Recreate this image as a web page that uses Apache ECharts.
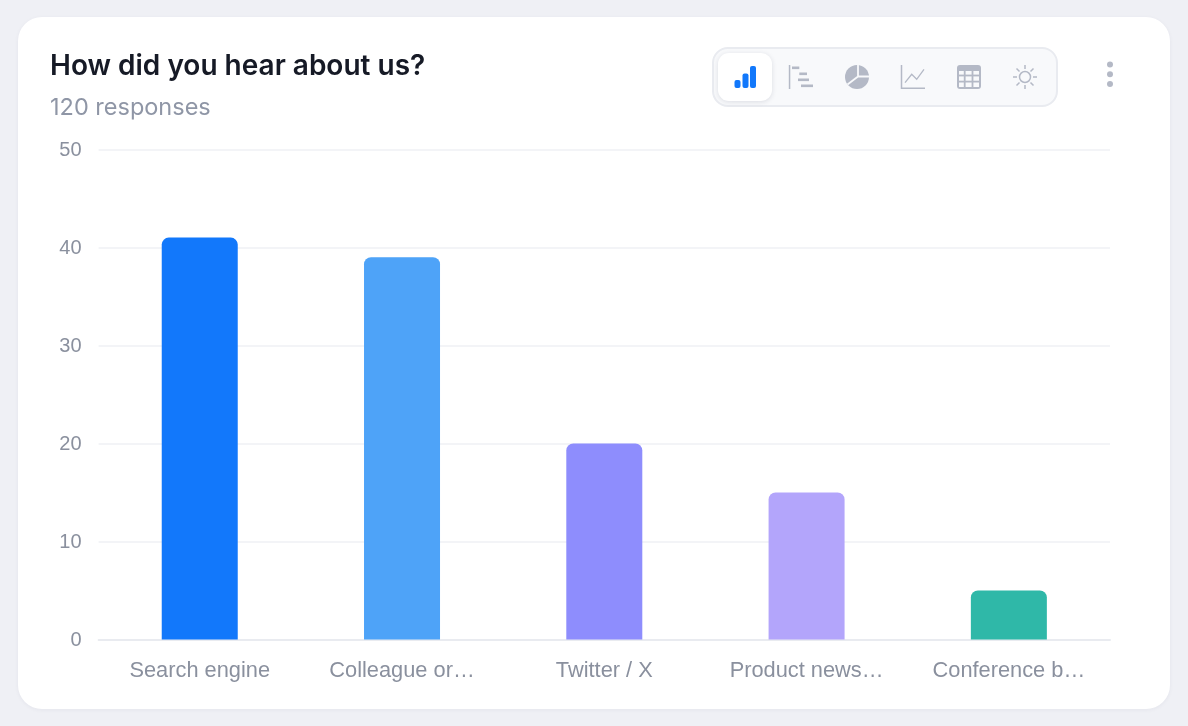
<!DOCTYPE html>
<html><head><meta charset="utf-8">
<style>
html,body{margin:0;padding:0;background:#eff0f5;width:1188px;height:726px;overflow:hidden}
#card{position:absolute;left:18px;top:17px;width:1152px;height:692px;background:#fff;border-radius:24px;box-shadow:0 1px 4px rgba(30,40,70,.05)}
#chart{position:absolute;left:0;top:0;width:1188px;height:726px}
#bar{position:absolute;left:712px;top:47px;width:342px;height:56px;background:#f8f9fb;border:2px solid #e9ebf0;border-radius:16px}
#act{position:absolute;left:718px;top:53px;width:54px;height:48px;background:#fff;border-radius:11px;box-shadow:0 1px 5px rgba(30,40,70,.13)}
svg{position:absolute;left:0;top:0}
</style></head><body>
<div id="card"></div><div id="bar"></div><div id="act"></div>
<div id="chart"></div>
<svg width="1188" height="726" fill="#b4b9c6" stroke="none">
<g fill="#1278fb"><rect x="734.500" y="80" width="6" height="8" rx="2"/><rect x="742.500" y="73.500" width="6" height="14.500" rx="2"/><rect x="750" y="66" width="6" height="22" rx="2"/></g>
<rect x="788.800" y="65" width="1.500" height="24"/>
<rect x="792" y="66.500" width="7.300" height="2.600"/><rect x="799.300" y="72.500" width="7.700" height="2.600"/><rect x="798" y="78.500" width="11" height="2.600"/><rect x="801" y="84.500" width="12" height="2.600"/>
<circle cx="857" cy="77" r="12"/>
<path d="M858 64.500V76.500H870M858 76.500L847.500 84.500" fill="none" stroke="#f8f9fb" stroke-width="1.800"/>
<g fill="none" stroke="#b4b9c6"><path d="M901.500 65v23.300H925" stroke-width="1.500"/><path d="M905 82.700l6.700-8.400 5 5 7.300-10" stroke-width="1.300"/>
<circle cx="1025" cy="77" r="5.500" stroke-width="1.500"/>
<path d="M1025 65v4M1025 85v4M1013 77h4M1033 77h4M1016.500 68.500l3 3M1030.500 82.500l3 3M1016.500 85.500l3-3M1030.500 71.500l3-3" stroke-width="1.500"/></g>
<rect x="957" y="65" width="24" height="24" rx="3"/>
<g fill="#f8f9fb"><rect x="959" y="71" width="4.800" height="3.600"/><rect x="965.600" y="71" width="6" height="3.600"/><rect x="973.400" y="71" width="5.600" height="3.600"/><rect x="959" y="76.400" width="4.800" height="4.300"/><rect x="965.600" y="76.400" width="6" height="4.300"/><rect x="973.400" y="76.400" width="5.600" height="4.300"/><rect x="959" y="82.500" width="4.800" height="4.500"/><rect x="965.600" y="82.500" width="6" height="4.500"/><rect x="973.400" y="82.500" width="5.600" height="4.500"/></g>
<circle cx="1110" cy="64.500" r="3"/><circle cx="1110" cy="74.300" r="3"/><circle cx="1110" cy="84" r="3"/>
</svg>
<script src="https://cdn.jsdelivr.net/npm/echarts@6/dist/echarts.min.js"></script>
<script>
const categories = ['Search engine','Colleague or…','Twitter / X','Product news…','Conference b…'];
const values = [41,39,20,15,5];
const barColors = ['#1278fb','#4ea3f8','#8e8dfd','#b3a5fb','#2fb8a8'];
const chart = echarts.init(document.getElementById('chart'),null,{renderer:'canvas'});
chart.setOption({
  animation:false,
  backgroundColor:'transparent',
  title:{text:'How did you hear about us?',subtext:'120 responses',left:50,top:50,itemGap:10,padding:0,
    textStyle:{fontFamily:'Inter',fontSize:28,fontWeight:600,color:'#161a26',lineHeight:34},
    subtextStyle:{fontFamily:'Inter',fontSize:23.500,fontWeight:400,color:'#8f96a6',lineHeight:28}},
  grid:{left:98.600,right:78,top:149.400,bottom:86.600,containLabel:false},
  xAxis:{type:'category',data:categories,
    axisLine:{show:true,lineStyle:{color:'#e9ebf0',width:2}},axisTick:{show:false},
    axisLabel:{interval:0,margin:20.500,color:'#8a909e',fontSize:21.800,fontFamily:'Liberation Sans'}},
  yAxis:{type:'value',min:0,max:50,interval:10,
    axisLine:{show:false},axisTick:{show:false},
    splitLine:{lineStyle:{color:'#f3f4f7',width:2}},
    axisLabel:{margin:17,formatter:'{a|{value}}',
      rich:{a:{color:'#8a909e',fontSize:20,fontFamily:'Liberation Sans',padding:[2,0,0,0]}}}},
  series:[{type:'bar',barWidth:76,
    data:values.map((v,i)=>({value:v,itemStyle:{color:barColors[i],borderRadius:[7,7,0,0]}}))}]
});
</script></body></html>
